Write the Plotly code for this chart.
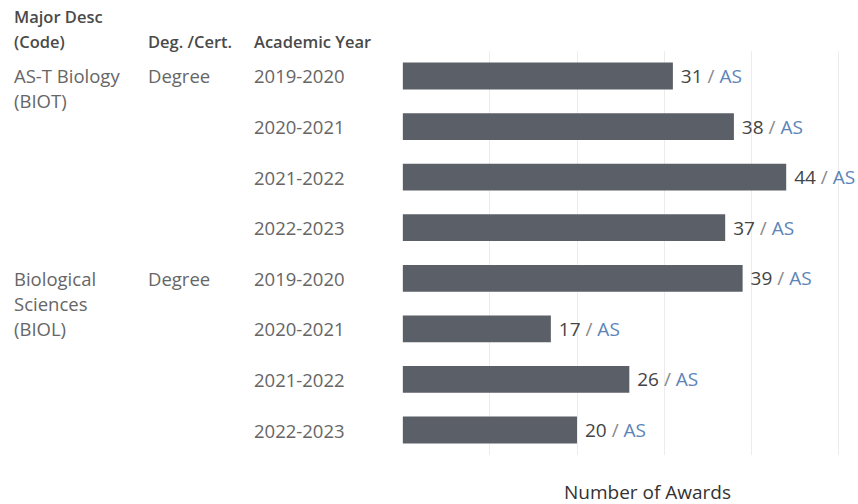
import plotly.graph_objects as go

# Awards by major, degree type and academic year
major_lines = [["AS-T Biology", "(BIOT)"], ["Biological", "Sciences", "(BIOL)"]]
major_first_row = [0, 4]
degree = ["Degree", "Degree"]
years = ["2019-2020", "2020-2021", "2021-2022", "2022-2023",
         "2019-2020", "2020-2021", "2021-2022", "2022-2023"]
awards = [31, 38, 44, 37, 39, 17, 26, 20]
award_type = ["AS"] * 8
headers = [["Major Desc", "(Code)"], ["Deg. /Cert."], ["Academic Year"]]
axis_title = "Number of Awards"

W, H = 858, 504
BAR_COLOR = "#5b5f67"
LABEL_GRAY = "#666666"
HEAD_GRAY = "#4a4a4a"
BLUE = "#5b84b8"
FONT = "Open Sans"
ROW_SIZE = 18.5

rows = list(range(len(awards)))

def px_x(p):
    return p / W

def px_y(p):
    return (H - p) / H

labels = [
    f"\u00a0{v}<span style='color:#8a8a8a'> / </span><span style='color:{BLUE}'>{t}</span>"
    for v, t in zip(awards, award_type)
]

fig = go.Figure(
    go.Bar(
        x=awards,
        y=rows,
        orientation="h",
        width=0.53,
        marker=dict(color=BAR_COLOR, line=dict(width=0)),
        text=labels,
        textposition="outside",
        textfont=dict(family=FONT, size=19, color="#444444"),
        cliponaxis=False,
        hoverinfo="skip",
    )
)

annotations = []
# column headers
head_x = [12, 146, 252]
for hx, lines in zip(head_x, headers):
    n = len(lines)
    for k, line in enumerate(lines):
        py = 41 - 24 * (n - 1 - k)
        annotations.append(dict(
            text=line, xref="paper", yref="paper", x=px_x(hx), y=px_y(py),
            xanchor="left", yanchor="middle", showarrow=False,
            font=dict(family=FONT, size=16.5, color=HEAD_GRAY, weight=600),
        ))

# major and degree labels at the first row of each group
for g, (lines, r0) in enumerate(zip(major_lines, major_first_row)):
    for k, line in enumerate(lines):
        annotations.append(dict(
            text=line, xref="paper", yref="y", x=px_x(12), y=r0, yshift=-25 * k,
            xanchor="left", yanchor="middle", showarrow=False,
            font=dict(family=FONT, size=ROW_SIZE, color=LABEL_GRAY),
        ))
    annotations.append(dict(
        text=degree[g], xref="paper", yref="y", x=px_x(146), y=r0,
        xanchor="left", yanchor="middle", showarrow=False,
        font=dict(family=FONT, size=ROW_SIZE, color=LABEL_GRAY),
    ))

# academic year labels
for r, yr in zip(rows, years):
    annotations.append(dict(
        text=yr, xref="paper", yref="y", x=px_x(252), y=r,
        xanchor="left", yanchor="middle", showarrow=False,
        font=dict(family=FONT, size=ROW_SIZE, color=LABEL_GRAY),
    ))

# x axis title
annotations.append(dict(
    text=axis_title, xref="paper", yref="paper", x=px_x(647), y=px_y(492),
    xanchor="center", yanchor="middle", showarrow=False,
    font=dict(family=FONT, size=19, color="#333333"),
))

px_per_unit = 8.72
x0 = 402.5
fig.update_layout(
    width=W, height=H,
    margin=dict(l=0, r=0, t=0, b=0),
    paper_bgcolor="white", plot_bgcolor="white",
    showlegend=False,
    annotations=annotations,
    font=dict(family=FONT),
    xaxis=dict(
        domain=[x0 / W, 1],
        range=[-0.02, (W - x0) / px_per_unit],
        dtick=10, tick0=0,
        showgrid=True, gridcolor="#ececec", gridwidth=1,
        zeroline=False, showline=False, showticklabels=False, ticks="",
        automargin=False,
    ),
    yaxis=dict(
        domain=[(H - 455.3) / H, (H - 50.7) / H],
        range=[7.5, -0.5],
        showgrid=False, zeroline=False, showline=False,
        showticklabels=False, ticks="",
        automargin=False,
    ),
)

fig.write_html("out.html", config={"displayModeBar": False})
